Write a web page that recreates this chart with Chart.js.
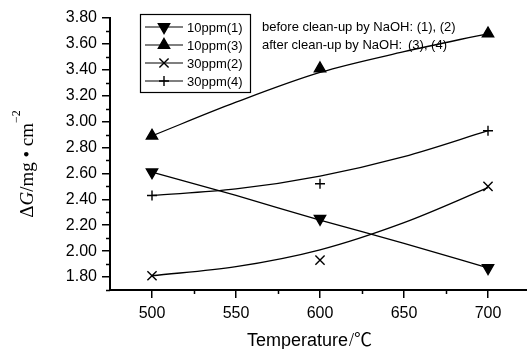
<!DOCTYPE html>
<html>
<head>
<meta charset="utf-8">
<script src="https://cdn.jsdelivr.net/npm/chart.js@4.4.1/dist/chart.umd.min.js"></script>
<style>
	html, body { margin: 0; padding: 0; background: #fff; overflow: hidden; }
	#wrap { width: 540px; height: 349px; }
</style>
</head>
<body>
<div id="wrap"><canvas id="myChart" width="540" height="349"></canvas></div>
<script>
// measured points
var temps = [500, 600, 700];
var ppm10_1 = [2.61, 2.25, 1.87];
var ppm10_3 = [2.89, 3.41, 3.68];
var ppm30_2 = [1.81, 1.93, 2.50];
var ppm30_4 = [2.43, 2.52, 2.93];

// fitted curves
var fitTemps = [500, 550, 600, 650, 700];
var fit10_1 = [2.61, 2.43, 2.24, 2.06, 1.87];
var fit10_3 = [2.89, 3.15, 3.38, 3.54, 3.68];
var fit30_2 = [1.81, 1.88, 2.01, 2.22, 2.49];
var fit30_4 = [2.43, 2.48, 2.58, 2.73, 2.93];

var seriesNames = ["10ppm(1)", "10ppm(3)", "30ppm(2)", "30ppm(4)"];
var xTicks = [500, 550, 600, 650, 700];
var xMinorTicks = [525, 575, 625, 675, 725];
var yTicks = [1.8, 2.0, 2.2, 2.4, 2.6, 2.8, 3.0, 3.2, 3.4, 3.6, 3.8];
var yMinorTicks = [1.7, 1.9, 2.1, 2.3, 2.5, 2.7, 2.9, 3.1, 3.3, 3.5, 3.7];
var noteBefore = "before clean-up by NaOH: (1), (2)";
var noteAfter = "after clean-up by NaOH:";
var noteAfterIds = "(3), (4)";

var markers = [
	{pointStyle: "triangle", rotation: 180, radius: 6.5},
	{pointStyle: "triangle", rotation: 0, radius: 6.5},
	{pointStyle: "crossRot", rotation: 0, radius: 6.5},
	{pointStyle: "cross", rotation: 0, radius: 5}
];

var sansFont = '"Liberation Sans", Arial, sans-serif';
var serifFont = '"Liberation Serif", "Times New Roman", serif';

function pts(xs, ys) {
	return xs.map(function(x, i) { return {x: x, y: ys[i]}; });
}

function fitSet(ys) {
	return {
		data: pts(fitTemps, ys),
		showLine: true,
		borderColor: "#000",
		borderWidth: 1.3,
		pointRadius: 0,
		cubicInterpolationMode: "monotone",
		fill: false
	};
}

function markSet(ys, m) {
	return {
		data: pts(temps, ys),
		showLine: false,
		pointStyle: m.pointStyle,
		rotation: m.rotation,
		pointRadius: m.radius,
		pointBackgroundColor: "#000",
		pointBorderColor: "#000",
		pointBorderWidth: 1.4
	};
}

var extras = {
	id: "extras",
	afterDraw: function(chart) {
		var ctx = chart.ctx;
		var xs = chart.scales.x, ys = chart.scales.y;
		var area = chart.chartArea;
		ctx.save();
		ctx.strokeStyle = "#000";
		ctx.fillStyle = "#000";

		// minor ticks
		ctx.lineWidth = 1.5;
		ctx.beginPath();
		xMinorTicks.forEach(function(v) {
			var px = Math.round(xs.getPixelForValue(v)) + 0.5;
			ctx.moveTo(px, area.bottom);
			ctx.lineTo(px, area.bottom + 4);
		});
		yMinorTicks.forEach(function(v) {
			var py = Math.round(ys.getPixelForValue(v)) + 0.5;
			ctx.moveTo(area.left, py);
			ctx.lineTo(area.left - 4, py);
		});
		ctx.stroke();

		// legend box
		ctx.lineWidth = 1.2;
		ctx.strokeRect(140.5, 14.5, 110, 78);
		var rows = [27, 45, 63, 81];
		ctx.font = "13px " + sansFont;
		ctx.textBaseline = "middle";
		ctx.textAlign = "left";
		seriesNames.forEach(function(name, i) {
			ctx.lineWidth = 1.2;
			ctx.beginPath();
			ctx.moveTo(145, rows[i]);
			ctx.lineTo(183, rows[i]);
			ctx.stroke();
			ctx.lineWidth = 1.4;
			Chart.helpers.drawPoint(ctx, {
				pointStyle: markers[i].pointStyle,
				rotation: markers[i].rotation,
				radius: markers[i].radius,
				borderWidth: 1.4
			}, 164, rows[i]);
			ctx.fillText(name, 187, rows[i] + 1);
		});

		// notes
		ctx.fillText(noteBefore, 262, 27);
		ctx.fillText(noteAfter, 262, 45);
		ctx.fillText(noteAfterIds, 408, 45);

		// x title
		ctx.textBaseline = "alphabetic";
		ctx.font = "18px " + sansFont;
		ctx.fillText("Temperature", 247, 346);
		var tw = ctx.measureText("Temperature").width;
		ctx.font = "18px " + serifFont + ', "Noto Sans CJK SC"';
		ctx.fillText("/\u2103", 247 + tw + 1, 346);

		// y title
		var parts = [
			{t: "\u0394", f: "19px " + serifFont, dy: 0},
			{t: "G", f: "italic 19px " + serifFont, dy: 0},
			{t: "/mg \u2022 cm", f: "19px " + serifFont, dy: 0},
			{t: "\u22122", f: "12px " + serifFont, dy: -13}
		];
		var total = 0;
		parts.forEach(function(p) { ctx.font = p.f; p.w = ctx.measureText(p.t).width; total += p.w; });
		ctx.translate(33, 164);
		ctx.rotate(-Math.PI / 2);
		var cx = -total / 2;
		parts.forEach(function(p) {
			ctx.font = p.f;
			ctx.fillText(p.t, cx, p.dy);
			cx += p.w;
		});
		ctx.restore();
	}
};

new Chart("myChart", {
	type: "scatter",
	data: {
		datasets: [
			markSet(ppm10_1, markers[0]),
			markSet(ppm10_3, markers[1]),
			markSet(ppm30_2, markers[2]),
			markSet(ppm30_4, markers[3]),
			fitSet(fit10_1),
			fitSet(fit10_3),
			fitSet(fit30_2),
			fitSet(fit30_4)
		]
	},
	options: {
		responsive: false,
		animation: false,
		devicePixelRatio: 1,
		layout: {padding: {top: 18, right: 10, left: 0, bottom: 0}},
		plugins: {legend: {display: false}, tooltip: {enabled: false}},
		scales: {
			x: {
				type: "linear",
				min: 475,
				max: 725,
				afterBuildTicks: function(s) { s.ticks = xTicks.map(function(v) { return {value: v}; }); },
				afterFit: function(s) { s.height = 59; },
				ticks: {
					color: "#000",
					padding: 6,
					maxRotation: 0,
					font: {family: sansFont, size: 16},
					callback: function(v) { return String(v); }
				},
				grid: {display: true, drawOnChartArea: false, drawTicks: true, tickLength: 8, color: "#000", lineWidth: 1.5},
				border: {display: true, color: "#000", width: 2}
			},
			y: {
				min: 1.7,
				max: 3.8,
				afterBuildTicks: function(s) { s.ticks = yTicks.map(function(v) { return {value: v}; }); },
				afterFit: function(s) { s.width = 110; },
				ticks: {
					color: "#000",
					padding: 5,
					font: {family: sansFont, size: 16},
					callback: function(v) { return v.toFixed(2); }
				},
				grid: {display: true, drawOnChartArea: false, drawTicks: true, tickLength: 8, color: "#000", lineWidth: 1.5},
				border: {display: true, color: "#000", width: 2}
			}
		}
	},
	plugins: [extras]
});
</script>
</body>
</html>
